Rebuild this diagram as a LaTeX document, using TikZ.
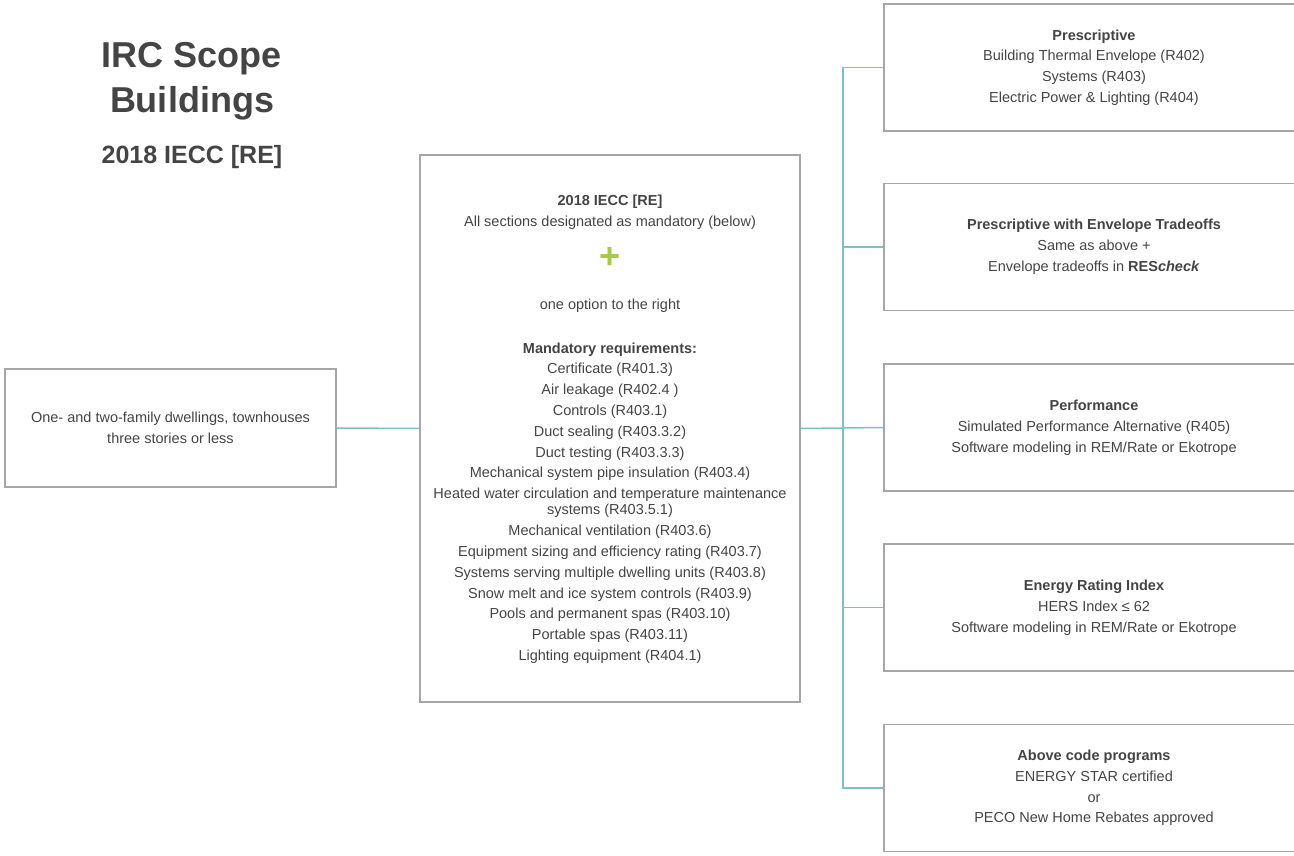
\documentclass[tikz,border=0pt]{standalone}
\usepackage{fontspec}
\setmainfont{Liberation Sans}
\definecolor{txt}{HTML}{444444}
\definecolor{boxc}{HTML}{A6A6A6}
\definecolor{conn}{HTML}{7DBFC7}
\definecolor{plusc}{HTML}{A7C947}
\begin{document}
\begin{tikzpicture}[x=1pt,y=-1pt,
  box/.style={draw=boxc, line width=1.3pt, inner sep=0pt, align=center, text=txt, font=\fontsize{14.5}{20.8}\selectfont},
  rbox/.style={box, minimum width=420pt, minimum height=127pt},
  tx/.style={text=txt, align=center, inner sep=0pt, font=\fontsize{14.5}{20.8}\selectfont},
  link/.style={draw=conn, line width=1.5pt}]
\useasboundingbox (0,0) rectangle (1294,856);
\clip (0,0) rectangle (1294,856);

% title
\node[tx, font=\fontsize{36}{45}\bfseries] (title) at (192,81) {IRC Scope\\Buildings};
\node[tx, font=\fontsize{25}{30}\bfseries] (subtitle) at (192,157) {2018 IECC [RE]};

% left box
\node[box, minimum width=331pt, minimum height=118pt] (left) at (170.5,428)
  {One- and two-family dwellings, townhouses\\three stories or less};

% middle box
\node[box, minimum width=380pt, minimum height=547pt] (mid) at (610,428.5) {};
\node[tx] (midhead) at (610,212) {\textbf{2018 IECC [RE]}\\All sections designated as mandatory (below)};
\node[tx, text=plusc, font=\fontsize{36}{40}\bfseries] (plus) at (610,258) {+};
\node[tx] (option) at (610,306) {one option to the right};
\node[tx] (mandlist) at (610,503) {\textbf{Mandatory requirements:}\\
Certificate (R401.3)\\
Air leakage (R402.4 )\\
Controls (R403.1)\\
Duct sealing (R403.3.2)\\
Duct testing (R403.3.3)\\
Mechanical system pipe insulation (R403.4)\\
Heated water circulation and temperature maintenance\\[-4.5pt]
systems (R403.5.1)\\
Mechanical ventilation (R403.6)\\
Equipment sizing and efficiency rating (R403.7)\\
Systems serving multiple dwelling units (R403.8)\\
Snow melt and ice system controls (R403.9)\\
Pools and permanent spas (R403.10)\\
Portable spas (R403.11)\\
Lighting equipment (R404.1)};

% right boxes
\node[rbox] (r1) at (1094,67.5) {\textbf{Prescriptive}\\Building Thermal Envelope (R402)\\Systems (R403)\\Electric Power \& Lighting (R404)};
\node[rbox] (r2) at (1094,247) {\textbf{Prescriptive with Envelope Tradeoffs}\\Same as above +\\Envelope tradeoffs in \textbf{RES\textit{check}}};
\node[rbox] (r3) at (1094,427.5) {\textbf{Performance}\\Simulated Performance Alternative (R405)\\Software modeling in REM/Rate or Ekotrope};
\node[rbox] (r4) at (1094,607.5) {\textbf{Energy Rating Index}\\HERS Index ≤ 62\\Software modeling in REM/Rate or Ekotrope};
\node[rbox] (r5) at (1094,788) {\textbf{Above code programs}\\ENERGY STAR certified\\or\\PECO New Home Rebates approved};

% connectors
\coordinate (bus) at (843,428);
\draw[link] (left.east) -- (mid.west);
\draw[link] (mid.east) -- (bus);
\draw[link] (bus) |- (r1.west);
\draw[link] (bus) |- (r2.west);
\draw[link] (bus) -- (r3.west);
\draw[link] (bus) |- (r4.west);
\draw[link] (bus) |- (r5.west);
\end{tikzpicture}
\end{document}
